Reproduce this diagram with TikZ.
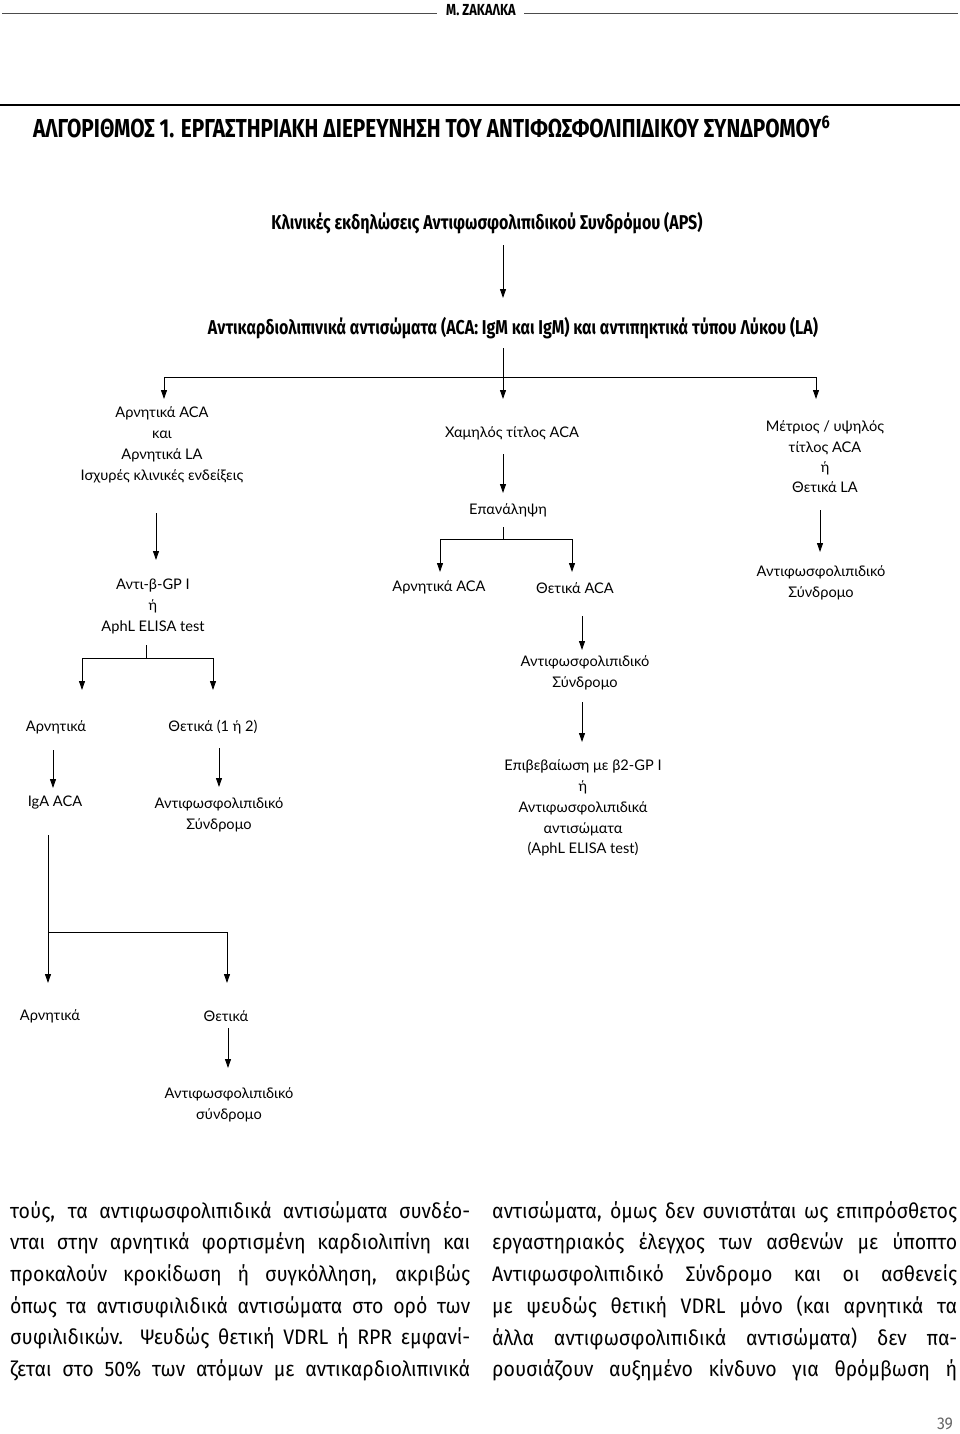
\documentclass[tikz,border=0pt]{standalone}
\usepackage{fontspec}
\setmainfont{Lato}
\newfontfamily\dfont{Lato}
\newfontfamily\hdfont[FakeStretch=0.8]{Fira Sans}
\newfontfamily\bodyfont[FakeStretch=0.93]{Fira Sans}
\usetikzlibrary{arrows.meta,calc}
\tikzset{
  lbl/.style={font=\dfont\fontsize{14.6}{21}\selectfont, align=center, inner sep=0pt},
  arr/.style={line width=0.9pt, -{Triangle[length=9pt,width=6pt]}},
  ln/.style={line width=0.9pt},
  hdtxt/.style={font=\hdfont\bfseries\fontsize{20}{22}\selectfont, inner sep=0pt},
  bodyline/.style={font=\bodyfont\fontsize{21}{26}\selectfont, inner sep=0pt, anchor=west},
}
\begin{document}
\begin{tikzpicture}[x=1pt,y=-1pt]
\useasboundingbox (0,0) rectangle (960,1434);
% header
\node[font=\hdfont\bfseries\fontsize{16}{20}\selectfont, inner sep=0pt] (hdr) at (481,10) {Μ. ΖΑΚΑΛΚΑ};
\coordinate (hl1) at (2,14); \coordinate (hl2) at (437,14);
\coordinate (hr1) at (524,14); \coordinate (hr2) at (958,14);
\draw[line width=1pt, black!70] (hl1) -- (hl2);
\draw[line width=1pt, black!70] (hr1) -- (hr2);
\coordinate (r1) at (0,105); \coordinate (r2) at (960,105);
\draw[line width=2.5pt] (r1) -- (r2);
\node[font=\hdfont\bfseries\fontsize{26}{28}\selectfont, inner sep=0pt, anchor=west] (title) at (33,127)
  {ΑΛΓΟΡΙΘΜΟΣ 1. ΕΡΓΑΣΤΗΡΙΑΚΗ ΔΙΕΡΕΥΝΗΣΗ ΤΟΥ ΑΝΤΙΦΩΣΦΟΛΙΠΙΔΙΚΟΥ ΣΥΝΔΡΟΜΟΥ\textsuperscript{6}};

% diagram nodes
\node[hdtxt] (k) at (487,223) {Κλινικές εκδηλώσεις Αντιφωσφολιπιδικού Συνδρόμου (APS)};
\node[hdtxt] (a) at (513,328) {Αντικαρδιολιπινικά αντισώματα (ACA: IgM και IgM) και αντιπηκτικά τύπου Λύκου (LA)};
\node[lbl] (n1) at (162,445) {Αρνητικά ACA\\και\\Αρνητικά LA\\Ισχυρές κλινικές ενδείξεις};
\node[lbl] (n2) at (512,433) {Χαμηλός τίτλος ACA};
\node[lbl, font=\dfont\fontsize{14.6}{20.4}\selectfont] (n3) at (825,457) {Μέτριος / υψηλός\\τίτλος ACA\\ή\\Θετικά LA};
\node[lbl] (n4) at (153,606) {Αντι-β-GP I\\ή\\AphL ELISA test};
\node[lbl] (n5) at (508,510) {Επανάληψη};
\node[lbl] (n6) at (439,587) {Αρνητικά ACA};
\node[lbl] (n7) at (575,588) {Θετικά ACA};
\node[lbl] (n8) at (585,673) {Αντιφωσφολιπιδικό\\Σύνδρομο};
\node[lbl, font=\dfont\fontsize{14.6}{20.8}\selectfont] (n9) at (583,808) {Επιβεβαίωση με β2-GP I\\ή\\Αντιφωσφολιπιδικά\\αντισώματα\\(AphL ELISA test)};
\node[lbl] (n10) at (821,583) {Αντιφωσφολιπιδικό\\Σύνδρομο};
\node[lbl] (n11) at (56,727) {Αρνητικά};
\node[lbl] (n12) at (213,727) {Θετικά (1 ή 2)};
\node[lbl] (n13) at (55,803) {IgA ACA};
\node[lbl] (n14) at (219,815) {Αντιφωσφολιπιδικό\\Σύνδρομο};
\node[lbl] (n15) at (50,1016) {Αρνητικά};
\node[lbl] (n16) at (226,1016) {Θετικά};
\node[lbl] (n17) at (229,1105) {Αντιφωσφολιπιδικό\\σύνδρομο};

% junctions
\coordinate (j1) at (503,377); \coordinate (j1L) at (164,377); \coordinate (j1R) at (816,377);
\coordinate (j2) at (503,539); \coordinate (j2L) at (440,539); \coordinate (j2R) at (572,539);
\coordinate (j3) at (146,658); \coordinate (j3L) at (82,658); \coordinate (j3R) at (213,658);
\coordinate (j4) at (48,932); \coordinate (j4R) at (227,932);

% connectors
\draw[arr] ($(k)+(16,22)$) -- ($(a)+(-10,-30)$);
\draw[ln] ($(a)+(-10,20)$) -- (j1);
\draw[ln] (j1L) -- (j1R);
\draw[arr] (j1L) -- ($(n1)+(2,-46)$);
\draw[arr] (j1) -- ($(n2)+(-9,-34)$);
\draw[arr] (j1R) -- ($(n3)+(-9,-58)$);
\draw[arr] ($(n1)+(-6,68)$) -- ($(n4)+(3,-46)$);
\draw[arr] ($(n2)+(-9,21)$) -- ($(n5)+(-5,-17)$);
\draw[ln] ($(n5)+(-5,17)$) -- (j2);
\draw[ln] (j2L) -- (j2R);
\draw[arr] (j2L) -- ($(n6)+(1,-15)$);
\draw[arr] (j2R) -- ($(n7)+(-3,-16)$);
\draw[arr] ($(n7)+(7,28)$) -- ($(n8)+(-3,-23)$);
\draw[arr] ($(n8)+(-3,29)$) -- ($(n9)+(-1,-66)$);
\draw[arr] ($(n3)+(-5,53)$) -- ($(n10)+(-1,-31)$);
\draw[ln] ($(n4)+(-7,39)$) -- (j3);
\draw[ln] (j3L) -- (j3R);
\draw[arr] (j3L) -- ($(n11)+(26,-37)$);
\draw[arr] (j3R) -- ($(n12)+(0,-37)$);
\draw[arr] ($(n11)+(-3,23)$) -- ($(n13)+(-2,-15)$);
\draw[arr] ($(n12)+(6,21)$) -- ($(n14)+(0,-28)$);
\draw[arr] ($(n13)+(-7,32)$) -- ($(n15)+(-2,-33)$);
\draw[ln] (j4) -- (j4R);
\draw[arr] (j4R) -- ($(n16)+(1,-33)$);
\draw[arr] ($(n16)+(2,12)$) -- ($(n17)+(-1,-37)$);

% body text
\node[bodyline] (L1) at (10,1212) {\makebox[460pt][s]{τούς, τα αντιφωσφολιπιδικά αντισώματα συνδέο-}};
\node[bodyline] (L2) at (10,1243.6) {\makebox[460pt][s]{νται στην αρνητικά φορτισμένη καρδιολιπίνη και}};
\node[bodyline] (L3) at (10,1275.2) {\makebox[460pt][s]{προκαλούν κροκίδωση ή συγκόλληση, ακριβώς}};
\node[bodyline] (L4) at (10,1306.8) {\makebox[460pt][s]{όπως τα αντισυφιλιδικά αντισώματα στο ορό των}};
\node[bodyline] (L5) at (10,1338.4) {\makebox[460pt][s]{συφιλιδικών. Ψευδώς θετική VDRL ή RPR εμφανί-}};
\node[bodyline] (L6) at (10,1370) {\makebox[460pt][s]{ζεται στο 50\% των ατόμων με αντικαρδιολιπινικά}};
\node[bodyline] (R1) at (492,1212) {\makebox[465pt][s]{αντισώματα, όμως δεν συνιστάται ως επιπρόσθετος}};
\node[bodyline] (R2) at (492,1243.6) {\makebox[465pt][s]{εργαστηριακός έλεγχος των ασθενών με ύποπτο}};
\node[bodyline] (R3) at (492,1275.2) {\makebox[465pt][s]{Αντιφωσφολιπιδικό Σύνδρομο και οι ασθενείς}};
\node[bodyline] (R4) at (492,1306.8) {\makebox[465pt][s]{με ψευδώς θετική VDRL μόνο (και αρνητικά τα}};
\node[bodyline] (R5) at (492,1338.4) {\makebox[465pt][s]{άλλα αντιφωσφολιπιδικά αντισώματα) δεν πα-}};
\node[bodyline] (R6) at (492,1370) {\makebox[465pt][s]{ρουσιάζουν αυξημένο κίνδυνο για θρόμβωση ή}};
\node[font=\bodyfont\fontsize{17}{20}\selectfont, inner sep=0pt, text=black!60] (pg) at (945,1424) {39};
\end{tikzpicture}
\end{document}
